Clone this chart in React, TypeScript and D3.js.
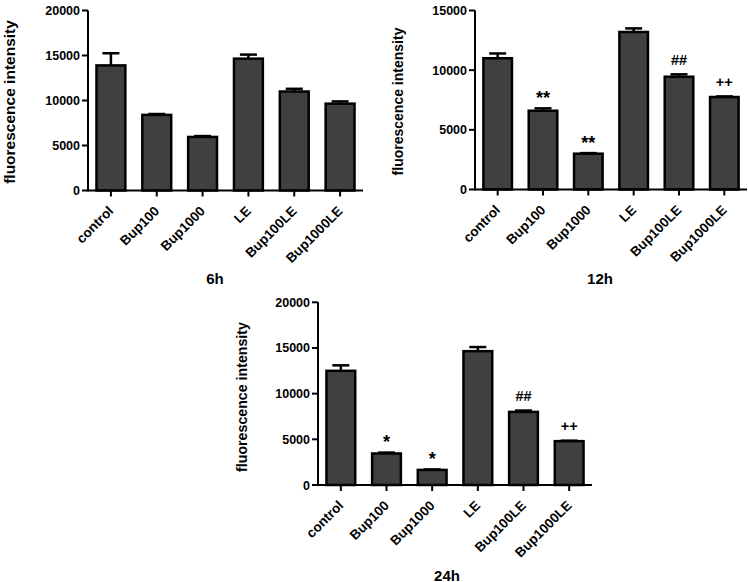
import React from "react";
import * as d3 from "d3";

const categories = ["control", "Bup100", "Bup1000", "LE", "Bup100LE", "Bup1000LE"];

const values6h = [13900, 8400, 5950, 14650, 11000, 9650];
const errTop6h = [15250, 8500, 6050, 15100, 11300, 9900];
const annot6h = ["", "", "", "", "", ""];

const values12h = [11000, 6600, 3000, 13200, 9450, 7750];
const errTop12h = [11400, 6800, 3050, 13500, 9650, 7800];
const annot12h = ["", "**", "**", "", "##", "++"];

const values24h = [12500, 3450, 1650, 14650, 8000, 4800];
const errTop24h = [13100, 3550, 1700, 15100, 8150, 4850];
const annot24h = ["", "*", "*", "", "##", "++"];

const yTicks20k = [0, 5000, 10000, 15000, 20000];
const yTicks15k = [0, 5000, 10000, 15000];

const FONT = "'Liberation Sans', Arial, Helvetica, sans-serif";
const FILL = "#404040";

type PanelProps = {
  title: string;
  values: number[];
  errTop: number[];
  annot: string[];
  yMax: number;
  ticks: number[];
  x0: number;
  x1: number;
  yBottom: number;
  yTop: number;
  labelX: number;
  labelY: number;
  labelSize: number;
  titleX: number;
  titleY: number;
};

function Panel(p: PanelProps) {
  const x = d3
    .scaleBand<string>()
    .domain(categories)
    .range([p.x0, p.x1])
    .paddingInner(0.37)
    .paddingOuter(0.185);
  const y = d3.scaleLinear().domain([0, p.yMax]).range([p.yBottom, p.yTop]);
  const bw = x.bandwidth();
  return (
    <g fontFamily={FONT} fontWeight="bold">
      {categories.map((c, i) => {
        const cx = (x(c) as number) + bw / 2;
        const top = y(p.values[i]);
        const et = y(p.errTop[i]);
        return (
          <g key={c}>
            <line x1={cx} x2={cx} y1={top} y2={et} stroke="#000" strokeWidth={2.5} />
            <line x1={cx - 8.5} x2={cx + 8.5} y1={et} y2={et} stroke="#000" strokeWidth={2.5} />
            <rect
              x={x(c)}
              y={top}
              width={bw}
              height={p.yBottom - top}
              fill={FILL}
              stroke="#000"
              strokeWidth={2.5}
            />
            {p.annot[i] ? (
              <text
                x={cx}
                y={et - (p.annot[i].includes("*") ? 4.5 : 9.5)}
                textAnchor="middle"
                fontSize={p.annot[i].includes("*") ? 18 : 14.5}
                fill="#000"
              >
                {p.annot[i]}
              </text>
            ) : null}
            <line x1={cx} x2={cx} y1={p.yBottom} y2={p.yBottom + 6} stroke="#000" strokeWidth={2} />
            <text
              transform={`translate(${cx},${p.yBottom + 18}) rotate(-45)`}
              textAnchor="end"
              dy="0.35em"
              fontSize={13.5}
              fill="#000"
            >
              {c}
            </text>
          </g>
        );
      })}
      <line x1={p.x0} x2={p.x1} y1={p.yBottom} y2={p.yBottom} stroke="#000" strokeWidth={2} />
      <line x1={p.x0} x2={p.x0} y1={p.yBottom + 1} y2={p.yTop} stroke="#000" strokeWidth={2} />
      {p.ticks.map((t) => (
        <g key={t}>
          <line x1={p.x0 - 6} x2={p.x0} y1={y(t)} y2={y(t)} stroke="#000" strokeWidth={2} />
          <text x={p.x0 - 8} y={y(t)} dy="0.36em" textAnchor="end" fontSize={12.5} fill="#000">
            {t}
          </text>
        </g>
      ))}
      <text
        transform={`translate(${p.labelX},${p.labelY}) rotate(-90)`}
        textAnchor="middle"
        fontSize={p.labelSize}
        fill="#000"
      >
        fluorescence intensity
      </text>
      <text x={p.titleX} y={p.titleY} textAnchor="middle" fontSize={15} fill="#000">
        {p.title}
      </text>
    </g>
  );
}

export default function App() {
  return (
    <svg width={748} height={582} style={{ position: "absolute", left: 0, top: 0, background: "#fff" }}>
      <rect width={748} height={582} fill="#fff" />
      <Panel
        title="6h"
        values={values6h}
        errTop={errTop6h}
        annot={annot6h}
        yMax={20000}
        ticks={yTicks20k}
        x0={88}
        x1={363}
        yBottom={190.5}
        yTop={10.5}
        labelX={14.5}
        labelY={102}
        labelSize={15.5}
        titleX={215}
        titleY={283.5}
      />
      <Panel
        title="12h"
        values={values12h}
        errTop={errTop12h}
        annot={annot12h}
        yMax={15000}
        ticks={yTicks15k}
        x0={475}
        x1={747}
        yBottom={189.5}
        yTop={10.5}
        labelX={403}
        labelY={101.5}
        labelSize={14}
        titleX={600}
        titleY={283.5}
      />
      <Panel
        title="24h"
        values={values24h}
        errTop={errTop24h}
        annot={annot24h}
        yMax={20000}
        ticks={yTicks20k}
        x0={318}
        x1={592}
        yBottom={485}
        yTop={302.3}
        labelX={246.5}
        labelY={397}
        labelSize={14.2}
        titleX={447}
        titleY={580.5}
      />
    </svg>
  );
}
